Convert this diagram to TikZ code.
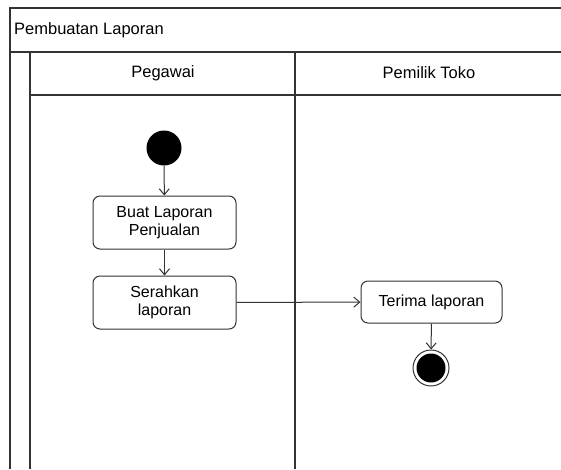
\documentclass[tikz,border=0pt]{standalone}
\usepackage{fontspec}
\setmainfont{Liberation Sans}
\usetikzlibrary{arrows.meta}
\begin{document}
\begin{tikzpicture}[x=1pt,y=-1pt,
  lane/.style={draw=black!80,line width=1.2pt},
  act/.style={draw=black!80,line width=1pt,rounded corners=7pt,fill=white,align=center,font=\fontsize{16}{18}\selectfont,inner sep=0pt},
  flow/.style={draw=black!80,line width=1pt,-{Straight Barb[length=6pt,width=10pt]}},
  lbl/.style={font=\fontsize{16.5}{18}\selectfont,inner sep=0pt}]
\useasboundingbox (0,0) rectangle (561,469);
% swimlane frame
\draw[lane] (561,8) -- (10,8) -- (10,469);
\draw[lane] (10,52) -- (561,52);
\draw[lane] (30,52) -- (30,469);
\draw[lane] (295,52) -- (295,469);
\draw[lane] (30,95) -- (561,95);
\node[lbl,anchor=west] (title) at (14,30) {Pembuatan Laporan};
\node[lbl] (l1) at (163,73) {Pegawai};
\node[lbl] (l2) at (429,73) {Pemilik Toko};
% nodes
\node[circle,fill=black,minimum size=35pt,inner sep=0pt] (start) at (164,148) {};
\node[act,minimum width=143pt,minimum height=53pt] (a1) at (164.5,222.5) {Buat Laporan\\Penjualan};
\node[act,minimum width=143pt,minimum height=53pt] (a2) at (164.5,302.5) {Serahkan\\laporan};
\node[act,minimum width=141pt,minimum height=42pt] (a3) at (431.5,302) {Terima laporan};
\node[circle,draw=black!80,line width=1pt,minimum size=36pt,inner sep=0pt] (end) at (431,368) {};
\node[circle,fill=black,minimum size=29pt,inner sep=0pt] (endin) at (end) {};
% flows
\draw[flow] (start) -- (a1);
\draw[flow] (a1) -- (a2);
\draw[flow] (a2) -- (a3);
\draw[flow] (a3) -- (end);
\end{tikzpicture}
\end{document}
